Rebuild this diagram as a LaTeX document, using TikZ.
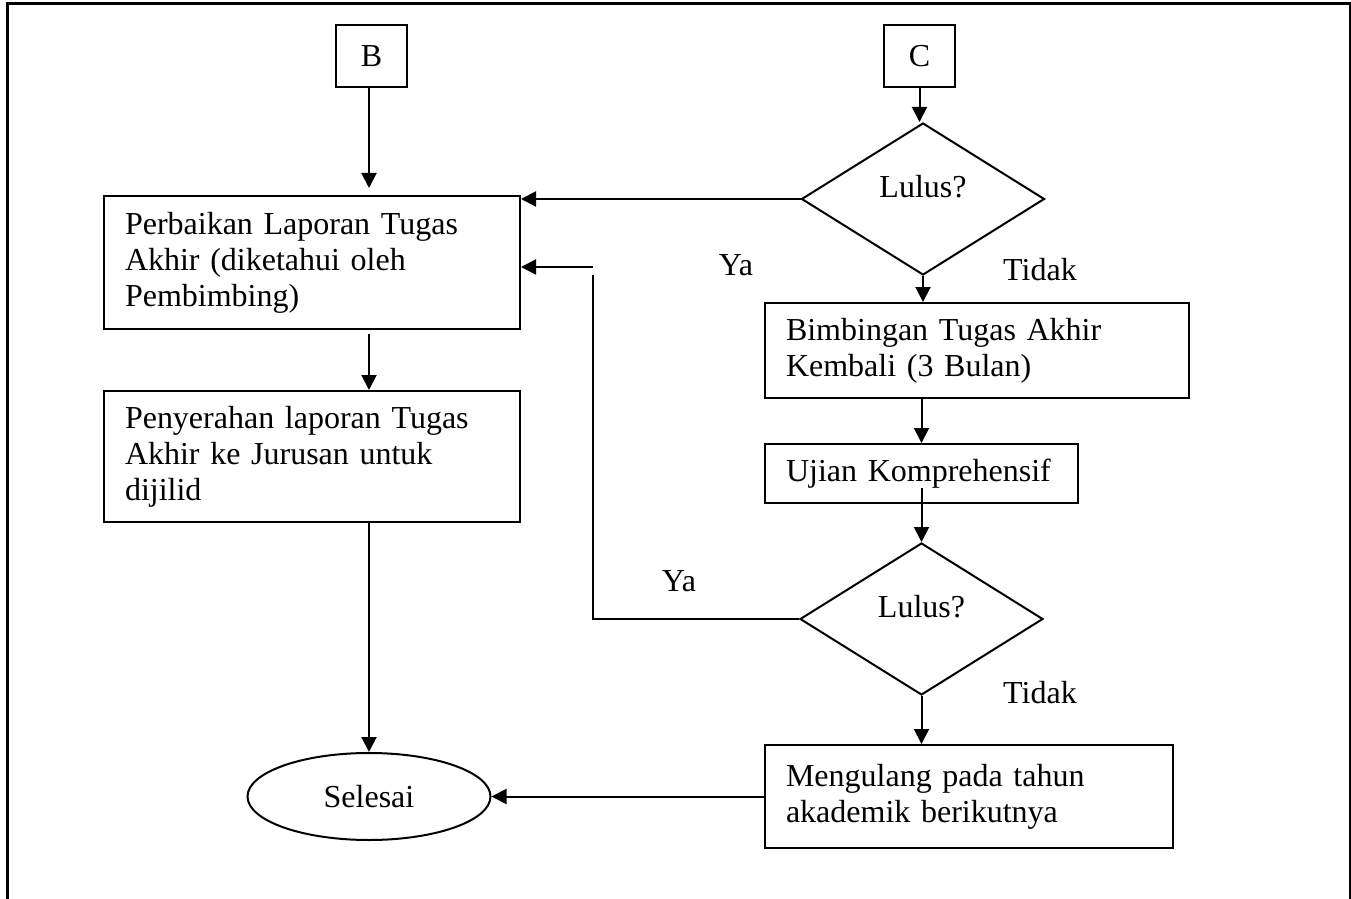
\documentclass[tikz,border=0pt]{standalone}
\usepackage{fontspec}
\setmainfont{Liberation Serif}
\usetikzlibrary{shapes.geometric,arrows.meta}

\begin{document}
\begin{tikzpicture}[x=0.5pt,y=-0.5pt,
    huruf/.style={font=\fontsize{16}{18}\selectfont},
    kotak/.style={huruf,draw,line width=1pt,rectangle,align=left,inner xsep=10.5pt,inner ysep=0pt},
    penghubung/.style={huruf,draw,line width=1pt,rectangle,minimum width=35.5pt,minimum height=31pt,inner sep=0pt},
    keputusan/.style={huruf,draw,line width=1pt,diamond,minimum width=121.5pt,minimum height=76pt,inner sep=0pt},
    akhir/.style={huruf,draw,line width=1pt,ellipse,minimum width=121.5pt,minimum height=43.5pt,inner sep=0pt},
    garis/.style={line width=1pt},
    panah/.style={line width=1pt,-{Triangle[length=7.5pt,width=7.5pt]}},
    jawab/.style={huruf,anchor=base,inner sep=0pt}]
            \useasboundingbox (0,0) rectangle (1351,899);
            \draw[line width=1.5pt] (7,899) -- (7,3.5) -- (1350,3.5) -- (1350,899);
            \node[penghubung] (B) at (371.5,56){B};
            \node[penghubung] (C) at (919.5,56){C};
            \node[keputusan] (lulus1) at (923,199){\raisebox{6pt}[\height][\depth]{Lulus?}};
            \node[kotak,minimum width=208pt,minimum height=66.5pt,text width=187pt] (perbaikan) at (312,262.5){Perbaikan Laporan Tugas\\Akhir (diketahui oleh\\Pembimbing)};
            \node[kotak,minimum width=208pt,minimum height=65.5pt,text width=187pt] (penyerahan) at (312,456.5){Penyerahan laporan Tugas\\Akhir ke Jurusan untuk\\dijilid};
            \node[kotak,minimum width=212pt,minimum height=47.5pt,text width=191pt] (bimbingan) at (977,350.5){Bimbingan Tugas Akhir\\Kembali (3 Bulan)};
            \node[kotak,minimum width=156.5pt,minimum height=29.5pt,text width=135.5pt] (ujian) at (921.5,473.5){Ujian Komprehensif};
            \node[keputusan] (lulus2) at (921.5,619){\raisebox{6pt}[\height][\depth]{Lulus?}};
            \node[kotak,minimum width=204pt,minimum height=51.5pt,text width=183pt] (mengulang) at (969,796.5){Mengulang pada tahun\\akademik berikutnya};
            \node[akhir] (selesai) at (369,796.5){Selesai};
            \node[jawab] (ya1) at (736,276){Ya};
            \node[jawab] (ya2) at (679,591){Ya};
            \node[jawab] (tidak1) at (1040,280){Tidak};
            \node[jawab] (tidak2) at (1040,703){Tidak};
            \coordinate (belok) at (593,619);
            \coordinate (putus) at (593,275);
            \coordinate (balik) at (593,267);
            \coordinate (ujibawah) at ([yshift=-7.25pt]ujian.center);
            \draw[panah] (selesai.north |- B.south) -- ([yshift=3.5pt]selesai.north |- perbaikan.north);
            \draw[panah] ([yshift=-2pt]selesai.north |- perbaikan.south) -- (selesai.north |- penyerahan.north);
            \draw[panah] (selesai.north |- penyerahan.south) -- (selesai.north);
            \draw[panah] (C.south) -- (C.south |- lulus1.north);
            \draw[panah] (lulus1.west) -- (perbaikan.east |- lulus1.west);
            \draw[panah] (lulus1.south) -- (lulus1.south |- bimbingan.north);
            \draw[panah] (ujian.north |- bimbingan.south) -- (ujian.north);
            \draw[panah] (ujibawah -| lulus2.north) -- (lulus2.north);
            \draw[panah] (lulus2.south) -- (lulus2.south |- mengulang.north);
            \draw[garis] (lulus2.west) -- (belok) -- (putus);
            \draw[panah] (balik) -- (balik -| perbaikan.east);
            \draw[panah] (mengulang.west) -- (selesai.east);
\end{tikzpicture}
\end{document}
